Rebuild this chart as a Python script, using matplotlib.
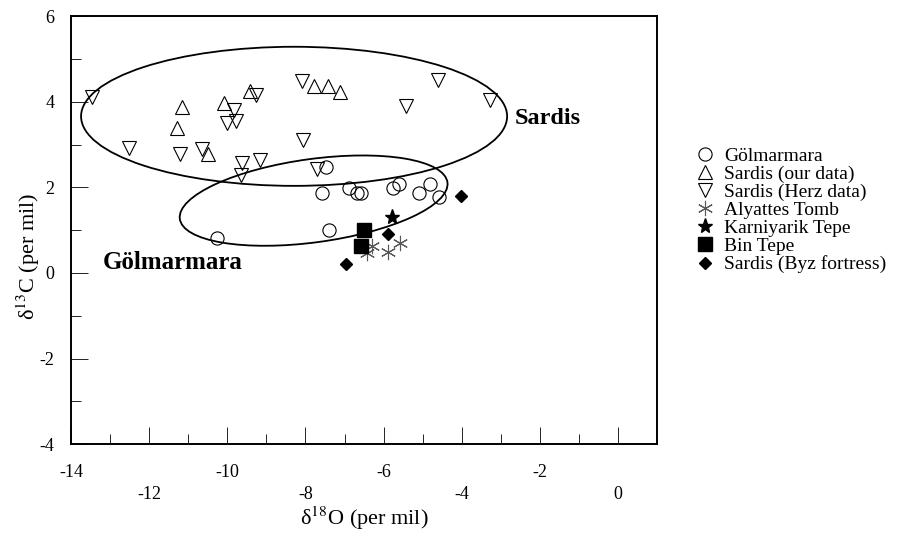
import numpy as np
import matplotlib
matplotlib.use("Agg")
import matplotlib.pyplot as plt
from matplotlib.patches import Ellipse

plt.rcParams['font.family'] = ['Liberation Serif', 'DejaVu Serif']
plt.rcParams['mathtext.fontset'] = 'stix'
plt.rcParams['axes.unicode_minus'] = False

# delta18O (x) / delta13C (y), per mil
gol_x = [-10.27, -7.39, -7.58, -7.47, -6.88, -6.69, -6.59, -5.77, -5.60, -5.09, -4.81, -4.59]
gol_y = [0.81, 1.00, 1.87, 2.48, 1.99, 1.87, 1.87, 1.99, 2.07, 1.87, 2.09, 1.78]

sar_our_x = [-11.17, -11.28, -10.49, -10.08, -9.42, -7.77, -7.41, -7.11]
sar_our_y = [3.88, 3.39, 2.78, 3.97, 4.25, 4.36, 4.36, 4.23]

sar_herz_x = [-13.46, -12.51, -11.21, -10.64, -9.82, -10.00, -9.78, -9.27, -9.61, -9.15,
              -9.64, -8.10, -8.05, -7.71, -5.43, -4.62, -3.28]
sar_herz_y = [4.10, 2.91, 2.79, 2.89, 3.80, 3.50, 3.55, 4.15, 2.56, 2.64,
              2.29, 4.49, 3.10, 2.44, 3.90, 4.50, 4.04]

alyattes_x = [-6.30, -6.42, -5.90, -5.58]
alyattes_y = [0.63, 0.47, 0.49, 0.71]

karni_x = [-5.79]
karni_y = [1.30]

bintepe_x = [-6.49, -6.58]
bintepe_y = [1.00, 0.63]

byz_x = [-4.03, -5.89, -6.97]
byz_y = [1.79, 0.92, 0.21]

xticks = [-14, -12, -10, -8, -6, -4, -2, 0]
yticks = [6, 4, 2, 0, -2, -4]

fig = plt.figure(figsize=(9.09, 5.39), dpi=100)
ax = fig.add_axes([0.078, 0.176, 0.645, 0.794])

ax.plot(gol_x, gol_y, 'o', ms=9.5, mfc='none', mec='black', mew=0.8, ls='none', label='Gölmarmara')
ax.plot(sar_our_x, sar_our_y, '^', ms=10, mfc='none', mec='black', mew=0.8, ls='none', label='Sardis (our data)')
ax.plot(sar_herz_x, sar_herz_y, 'v', ms=10, mfc='none', mec='black', mew=0.8, ls='none', label='Sardis (Herz data)')
ax.plot(alyattes_x, alyattes_y, marker=(6, 2, 0), ms=11, color='0.35', mew=0.8, ls='none', label='Alyattes Tomb')
ax.plot(karni_x, karni_y, '*', ms=11, color='black', ls='none', label='Karniyarik Tepe')
ax.plot(bintepe_x, bintepe_y, 's', ms=10, color='black', ls='none', label='Bin Tepe')
ax.plot(byz_x, byz_y, 'D', ms=6.5, color='black', ls='none', label='Sardis (Byz fortress)')

# group envelopes
ax.add_patch(Ellipse((-8.29, 3.66), 10.9, 3.25, angle=0, fill=False, ec='black', lw=1.3))
ax.add_patch(Ellipse((-7.79, 1.69), 6.9, 1.95, angle=7, fill=False, ec='black', lw=1.3))

ax.text(-2.64, 3.62, 'Sardis', fontsize=17.5, fontweight='bold', va='center', ha='left')
ax.text(-13.18, 0.25, 'Gölmarmara', fontsize=18, fontweight='bold', va='center', ha='left')

ax.set_xlim(-14, 1)
ax.set_ylim(-4, 6)

ax.set_xticks(xticks)
ax.set_xticklabels([str(t) if i % 2 == 0 else '\n' + str(t) for i, t in enumerate(xticks)])
ax.set_xticks(np.arange(-13, 1, 2), minor=True)
ax.set_yticks(yticks)
ax.set_yticks(np.arange(-3, 6, 2), minor=True)

ax.tick_params(which='major', direction='in', length=12, width=0.6, labelsize=13, pad=14)
ax.tick_params(which='minor', direction='in', length=7, width=0.6)
ax.tick_params(axis='y', which='major', pad=12)
ax.tick_params(top=False, right=False)
for lbl in ax.get_xticklabels():
    lbl.set_linespacing(1.4)

for s in ax.spines.values():
    s.set_linewidth(1.4)

ax.set_xlabel('δ$^{18}$O (per mil)', fontsize=16, labelpad=1)
ax.set_ylabel('δ$^{13}$C (per mil)', fontsize=16)
ax.yaxis.set_label_coords(-0.05, 0.44)

fig.legend(loc='upper left', bbox_to_anchor=(0.754, 0.741), frameon=False, fontsize=14,
           handletextpad=0.4, labelspacing=0.02, handlelength=1.2, borderaxespad=0)

fig.savefig('out.png', dpi=100)
